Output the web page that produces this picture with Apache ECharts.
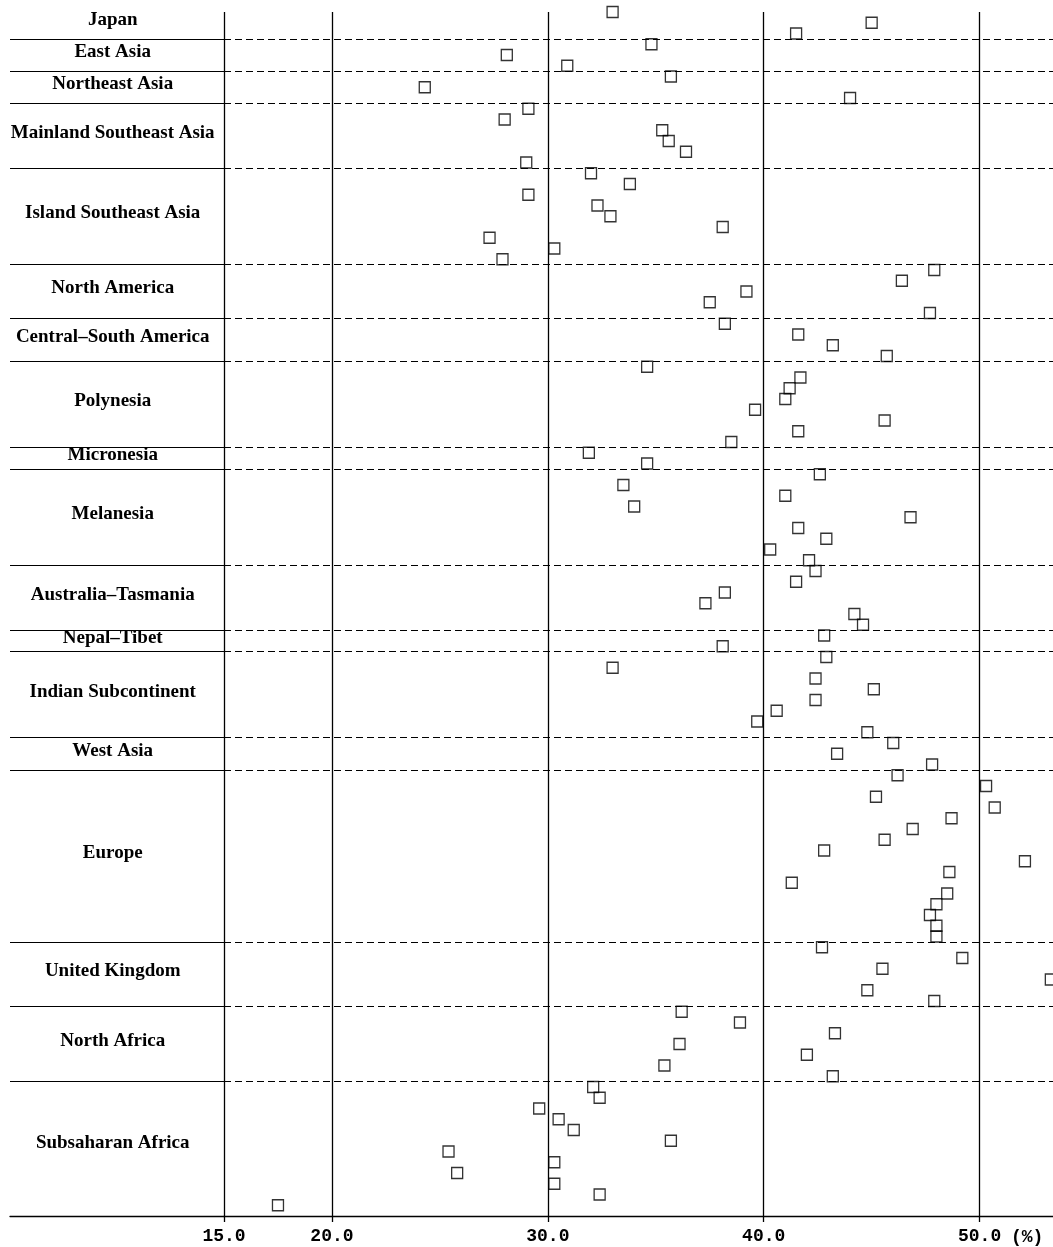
<!DOCTYPE html>
<html>
<head>
<meta charset="utf-8">
<script src="https://cdn.jsdelivr.net/npm/echarts@6/dist/echarts.min.js"></script>
<style>
html,body{margin:0;padding:0;background:#fff;}
#chart{width:1053px;height:1247px;}
</style>
</head>
<body>
<div id="chart"></div>
<script>
// ---- data (values in %, one row per population, top to bottom) ----
const regionNames = [
  'Japan', 'East Asia', 'Northeast Asia', 'Mainland Southeast Asia', 'Island Southeast Asia',
  'North America', 'Central\u2013South America', 'Polynesia', 'Micronesia', 'Melanesia',
  'Australia\u2013Tasmania', 'Nepal\u2013Tibet', 'Indian Subcontinent', 'West Asia', 'Europe',
  'United Kingdom', 'North Africa', 'Subsaharan Africa'
];
const japan = [33.0, 45.0, 41.5];
const eastAsia = [34.8, 28.1, 30.9];
const northeastAsia = [35.7, 24.3, 44.0];
const mainlandSEAsia = [29.1, 28.0, 35.3, 35.6, 36.4, 29.0];
const islandSEAsia = [32.0, 33.8, 29.1, 32.3, 32.9, 38.1, 27.3, 30.3, 27.9];
const northAmerica = [47.9, 46.4, 39.2, 37.5, 47.7];
const centralSouthAmerica = [38.2, 41.6, 43.2, 45.7];
const polynesia = [34.6, 41.7, 41.2, 41.0, 39.6, 45.6, 41.6, 38.5];
const micronesia = [31.9, 34.6];
const melanesia = [42.6, 33.5, 41.0, 34.0, 46.8, 41.6, 42.9, 40.3, 42.1];
const australiaTasmania = [42.4, 41.5, 38.2, 37.3, 44.2, 44.6];
const nepalTibet = [42.8, 38.1];
const indianSubcontinent = [42.9, 33.0, 42.4, 45.1, 42.4, 40.6, 39.7, 44.8];
const westAsia = [46.0, 43.4, 47.8];
const europe = [46.2, 50.3, 45.2, 50.7, 48.7, 46.9, 45.6, 42.8, 52.1, 48.6, 41.3, 48.5, 48.0, 47.7, 48.0, 48.0];
const unitedKingdom = [42.7, 49.2, 45.5, 53.3, 44.8, 47.9];
const northAfrica = [36.2, 38.9, 43.3, 36.1, 42.0, 35.4, 43.2];
const subsaharanAfrica = [32.1, 32.4, 29.6, 30.5, 31.2, 35.7, 25.4, 30.3, 25.8, 30.3, 32.4, 17.5];

const xTickValues = [15, 20, 30, 40, 50];
const xTickLabels = ['15.0', '20.0', '30.0', '40.0', '50.0'];
const unitLabel = '(%)';

// ---- build rows ----
const regionValues = [japan, eastAsia, northeastAsia, mainlandSEAsia, islandSEAsia,
  northAmerica, centralSouthAmerica, polynesia, micronesia, melanesia,
  australiaTasmania, nepalTibet, indianSubcontinent, westAsia, europe,
  unitedKingdom, northAfrica, subsaharanAfrica];

const points = [];
const boundaries = [];
const labelPoints = [];
let row = 0;
regionValues.forEach((vals, i) => {
  const start = row;
  vals.forEach(v => { points.push([v, row]); row++; });
  const end = row - 1;
  labelPoints.push({ value: [0.48, (start + end) / 2], name: regionNames[i] });
  if (i < regionValues.length - 1) boundaries.push(row - 0.5);
});
const totalRows = 112;

const ink = '#000';
const chart = echarts.init(document.getElementById('chart'), null, { renderer: 'canvas' });

const option = {
  animation: false,
  backgroundColor: '#fff',
  grid: [
    { left: 224, right: 0, top: 12, bottom: 31 },
    { left: 10, width: 214, top: 12, bottom: 31 }
  ],
  xAxis: [
    {
      gridIndex: 0, type: 'value', min: 15, max: 53.4, interval: 5,
      axisLine: { show: true, onZero: false, lineStyle: { color: ink, width: 1.3 } },
      axisTick: { show: true, customValues: xTickValues, length: 6, lineStyle: { color: ink, width: 1.3 } },
      axisLabel: {
        customValues: xTickValues,
        formatter: v => { const k = xTickValues.indexOf(v); return k >= 0 ? xTickLabels[k] : ''; },
        fontFamily: 'Liberation Mono', fontWeight: 'bold', fontSize: 18, color: ink, margin: 11
      },
      splitLine: { show: false }
    },
    {
      gridIndex: 1, type: 'value', min: 0, max: 1,
      axisLine: { show: true, onZero: false, lineStyle: { color: ink, width: 1.3 } },
      axisTick: { show: false }, axisLabel: { show: false }, splitLine: { show: false }
    }
  ],
  yAxis: [
    { gridIndex: 0, type: 'value', inverse: true, min: 0, max: totalRows, show: false },
    { gridIndex: 1, type: 'value', inverse: true, min: 0, max: totalRows, show: false }
  ],
  series: [
    {
      type: 'scatter', xAxisIndex: 0, yAxisIndex: 0, data: points, clip: false,
      symbol: 'rect', symbolSize: 11,
      itemStyle: { color: 'rgba(0,0,0,0)', borderColor: ink, borderWidth: 1.3 },
      emphasis: { disabled: true }, silent: true,
      markLine: {
        silent: true, symbol: ['none', 'none'], label: { show: false },
        data: [
          ...xTickValues.map(v => ({ xAxis: v, lineStyle: { type: 'solid', color: ink, width: 1.3 } })),
          ...boundaries.map(b => ({ yAxis: b, lineStyle: { type: [7, 4], color: ink, width: 1.1 } }))
        ]
      }
    },
    {
      type: 'scatter', xAxisIndex: 1, yAxisIndex: 1, data: labelPoints, clip: false,
      symbolSize: 1, itemStyle: { color: 'rgba(0,0,0,0)' }, silent: true,
      emphasis: { disabled: true },
      label: {
        show: true, position: 'inside', offset: [0, -3],
        formatter: p => p.name,
        fontFamily: 'Liberation Serif', fontWeight: 'bold', fontSize: 19, color: '#000',
        textBorderWidth: 0, textBorderColor: 'transparent', opacity: 1
      },
      markLine: {
        silent: true, symbol: ['none', 'none'], label: { show: false },
        data: boundaries.map(b => ({ yAxis: b, lineStyle: { type: 'solid', color: ink, width: 1.2 } }))
      }
    }
  ],
  graphic: [
    { type: 'text', left: 1011, top: 1228,
      style: { text: unitLabel, font: 'bold 18px "Liberation Mono"', fill: ink } }
  ]
};
chart.setOption(option);
</script>
</body>
</html>
